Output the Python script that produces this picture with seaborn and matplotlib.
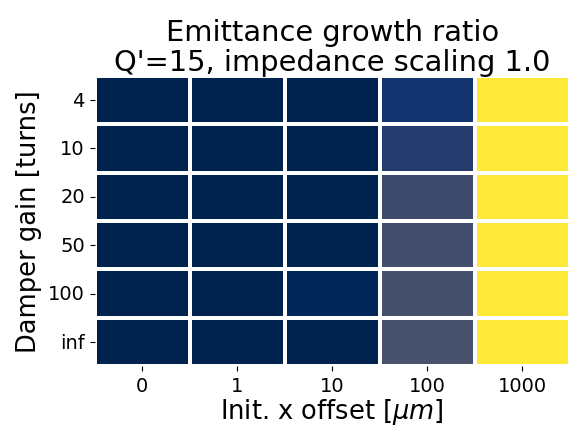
import numpy as np
import pandas as pd
import matplotlib
matplotlib.use("Agg")
import matplotlib.pyplot as plt
import seaborn as sns

# Scan parameters
damper_gain = ["4", "10", "20", "50", "100", "inf"]
x_offset = ["0", "1", "10", "100", "1000"]

# Emittance growth ratio per damper gain (rows) and initial offset (columns)
growth_4 = [1.00, 1.00, 1.00, 1.55, 6.00]
growth_10 = [1.00, 1.00, 1.00, 1.75, 6.00]
growth_20 = [1.00, 1.00, 1.00, 2.15, 6.00]
growth_50 = [1.00, 1.00, 1.00, 2.25, 6.00]
growth_100 = [1.00, 1.00, 1.12, 2.30, 6.00]
growth_inf = [1.00, 1.00, 1.00, 2.35, 6.00]

df = pd.DataFrame(
    [growth_4, growth_10, growth_20, growth_50, growth_100, growth_inf],
    index=damper_gain, columns=x_offset,
)

fig = plt.figure(figsize=(5.7, 4.27), dpi=100)
ax = fig.add_axes([0.166, 0.14, 0.834, 0.68])

sns.heatmap(df, ax=ax, cmap="cividis", vmin=1.0, vmax=6.0,
            linewidths=2.8, linecolor="white", cbar=False)

ax.set_title("Emittance growth ratio\nQ'=15, impedance scaling 1.0",
             fontsize=20.8, pad=4, linespacing=1.1)
ax.set_xlabel(r"Init. x offset [$\mu m$]", fontsize=18.5, labelpad=1)
ax.set_ylabel("Damper gain [turns]", fontsize=18.5, labelpad=4)
ax.tick_params(axis="both", labelsize=14)
plt.setp(ax.get_yticklabels(), rotation=0)
plt.setp(ax.get_xticklabels(), rotation=0)

fig.savefig("out.png", dpi=100)
